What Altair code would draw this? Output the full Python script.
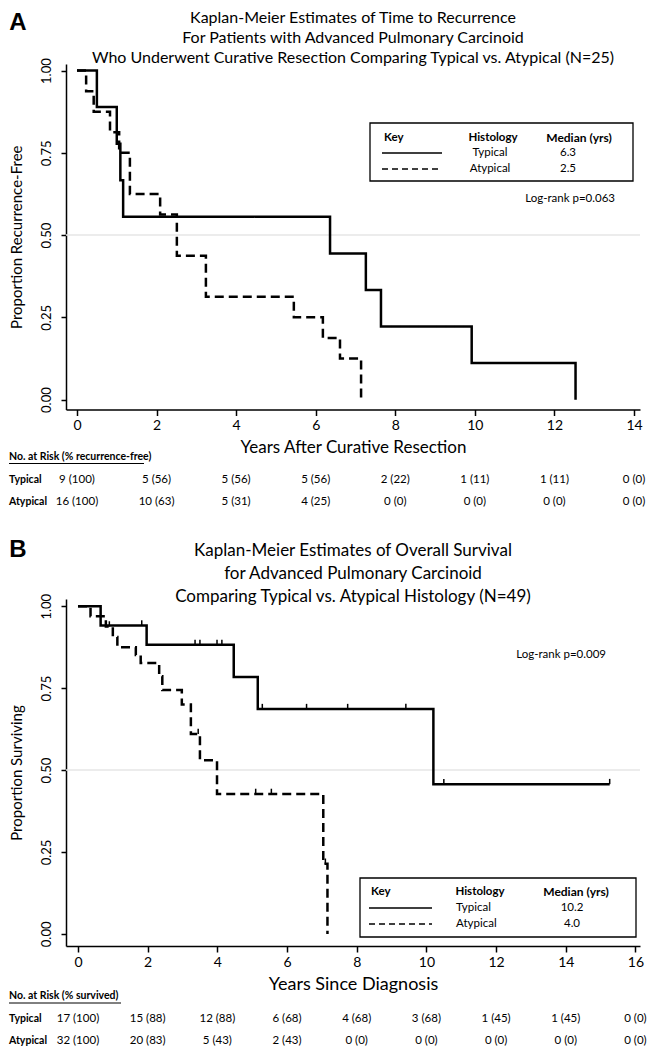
import altair as alt
import pandas as pd

FONT = "Lato"
LETTER_FONT = "Liberation Sans"

# ---------------- Panel A data ----------------
A_TITLE = ["Kaplan-Meier Estimates of Time to Recurrence",
           "For Patients with Advanced Pulmonary Carcinoid",
           "Who Underwent Curative Resection Comparing Typical vs. Atypical (N=25)"]
A_XTITLE = "Years After Curative Resection"
A_YTITLE = "Proportion Recurrence-Free"
A_typ_time = [0, 0.50, 1.00, 1.09, 1.16, 6.36, 7.26, 7.64, 9.92, 12.53]
A_typ_surv = [1.0, 0.889, 0.778, 0.667, 0.556, 0.444, 0.333, 0.222, 0.111, 0.0]
A_aty_time = [0, 0.23, 0.42, 0.83, 1.06, 1.33, 2.09, 2.51, 3.24, 5.45, 6.18, 6.61, 7.14]
A_aty_surv = [1.0, 0.9375, 0.875, 0.8125, 0.75, 0.625, 0.5625, 0.4375, 0.3125, 0.25, 0.1875, 0.125, 0.0]
A_xticks = [0, 2, 4, 6, 8, 10, 12, 14]
A_risk_header = "No. at Risk (% recurrence-free)"
A_risk_typ = ["9 (100)", "5 (56)", "5 (56)", "5 (56)", "2 (22)", "1 (11)", "1 (11)", "0 (0)"]
A_risk_aty = ["16 (100)", "10 (63)", "5 (31)", "4 (25)", "0 (0)", "0 (0)", "0 (0)", "0 (0)"]
A_medians = ["6.3", "2.5"]
A_logrank = "Log-rank p=0.063"

# ---------------- Panel B data ----------------
B_TITLE = ["Kaplan-Meier Estimates of Overall Survival",
           "for Advanced Pulmonary Carcinoid",
           "Comparing Typical vs. Atypical Histology (N=49)"]
B_XTITLE = "Years Since Diagnosis"
B_YTITLE = "Proportion Surviving"
B_typ_time = [0, 0.65, 1.97, 4.47, 5.16, 10.2, 15.26]
B_typ_surv = [1.0, 0.941, 0.882, 0.784, 0.686, 0.457, 0.457]
B_typ_cens_time = [1.83, 3.36, 3.50, 3.99, 4.13, 5.29, 6.56, 7.74, 9.41, 10.50, 15.26]
B_typ_cens_surv = [0.941, 0.882, 0.882, 0.882, 0.882, 0.686, 0.686, 0.686, 0.686, 0.457, 0.457]
B_aty_time = [0, 0.36, 0.80, 1.0, 1.13, 1.66, 1.80, 2.33, 2.42, 2.98, 3.24, 3.50, 3.99, 7.04, 7.16]
B_aty_surv = [1.0, 0.969, 0.938, 0.906, 0.875, 0.851, 0.827, 0.786, 0.744, 0.70, 0.61, 0.53, 0.427, 0.214, 0.0]
B_aty_cens_time = [0.90, 3.45, 5.10, 5.55, 7.10]
B_aty_cens_surv = [0.938, 0.61, 0.427, 0.427, 0.214]
B_xticks = [0, 2, 4, 6, 8, 10, 12, 14, 16]
B_risk_header = "No. at Risk (% survived)"
B_risk_typ = ["17 (100)", "15 (88)", "12 (88)", "6 (68)", "4 (68)", "3 (68)", "1 (45)", "1 (45)", "0 (0)"]
B_risk_aty = ["32 (100)", "20 (83)", "5 (43)", "2 (43)", "0 (0)", "0 (0)", "0 (0)", "0 (0)", "0 (0)"]
B_medians = ["10.2", "4.0"]
B_logrank = "Log-rank p=0.009"

GROUPS = ["Typical", "Atypical"]
LEGEND_HEAD = ["Key", "Histology", "Median (yrs)"]
Y_TICKS = [0, 0.25, 0.5, 0.75, 1.0]

W = 574
dummy = pd.DataFrame({"d": [0]})


def txt(text, x, y, size=11, weight="normal", align="center", font=FONT, baseline="middle"):
    return alt.Chart(dummy).mark_text(
        text=text, font=font, fontSize=size, fontWeight=weight, align=align,
        baseline=baseline, color="black"
    ).encode(x=alt.value(x), y=alt.value(y))


def panel(cfg):
    xs = alt.Scale(domain=cfg["xdom"], nice=False, zero=False)
    ys = alt.Scale(domain=cfg["ydom"], nice=False, zero=False)
    xaxis = alt.Axis(values=cfg["xticks"], title=cfg["xtitle"], grid=False, format="d",
                     domainColor="black", domainWidth=1.5, tickColor="black", tickWidth=1.5,
                     tickSize=6, labelFont=FONT, labelFontSize=14, labelColor="black",
                     labelPadding=3, labelFlush=False, labelOverlap=False,
                     titleFont=FONT, titleFontSize=cfg["xtitle_size"], titleFontWeight="normal",
                     titleColor="black", titlePadding=cfg["xtitlepad"])
    yaxis = alt.Axis(values=Y_TICKS, format=".2f", title=cfg["ytitle"], grid=False,
                     domainColor="black", domainWidth=1.5, tickColor="black", tickWidth=1.5,
                     tickSize=5, labelFont=FONT, labelFontSize=13, labelColor="black",
                     labelAngle=270, labelAlign="center", labelBaseline="bottom",
                     labelPadding=8, labelFlush=False, labelOverlap=False,
                     titleFont=FONT, titleFontSize=15, titleFontWeight="normal",
                     titleColor="black", titlePadding=16)
    X = lambda: alt.X("time:Q", scale=xs, axis=xaxis)
    Y = lambda: alt.Y("surv:Q", scale=ys, axis=yaxis)

    km = pd.concat([
        pd.DataFrame({"time": cfg["typ_t"], "surv": cfg["typ_s"], "group": "Typical"}),
        pd.DataFrame({"time": cfg["aty_t"], "surv": cfg["aty_s"], "group": "Atypical"}),
    ])
    grid = alt.Chart(pd.DataFrame({"surv": [0.5]})).mark_rule(
        color="#e6e6e6", strokeWidth=1.5
    ).encode(y=Y())
    lines = alt.Chart(km).mark_line(interpolate="step-after", color="black", strokeWidth=2.5).encode(
        x=X(), y=Y(),
        strokeDash=alt.StrokeDash("group:N", scale=alt.Scale(domain=GROUPS, range=[[1, 0], [9, 5]]), legend=None),
        detail="group:N",
    )
    layers = [grid, lines]
    if cfg.get("cens_t"):
        cens = pd.DataFrame({"time": cfg["cens_t"], "surv": cfg["cens_s"]})
        layers.append(alt.Chart(cens).mark_point(
            shape="M0,-1L0,0", size=110, filled=False, color="black", strokeWidth=1.5, opacity=1
        ).encode(x=X(), y=Y()))

    # title lines and panel letter
    for line, yy in zip(cfg["title"], cfg["title_y"]):
        layers.append(txt(line, W / 2, yy, size=cfg["title_size"]))
    layers.append(txt(cfg["letter"], -48, cfg["letter_y"], size=24, weight="bold", font=LETTER_FONT))

    # legend box
    L = cfg["leg"]
    layers.append(alt.Chart(dummy).mark_rect(fill="white", stroke="black", strokeWidth=1.3).encode(
        x=alt.value(L["x0"]), x2=alt.value(L["x1"]), y=alt.value(L["y0"]), y2=alt.value(L["y1"])))
    layers.append(txt(LEGEND_HEAD[0], L["key_x"], L["head_y"], size=11.5, weight="bold", align="left"))
    layers.append(txt(LEGEND_HEAD[1], L["hist_x"], L["head_y"], size=11.5, weight="bold"))
    layers.append(txt(LEGEND_HEAD[2], L["med_x"], L["head_y"], size=12, weight="bold"))
    for i, (g, m, ry) in enumerate(zip(GROUPS, cfg["medians"], L["row_y"])):
        layers.append(alt.Chart(dummy).mark_rule(
            color="black", strokeWidth=1.3, strokeDash=([1, 0] if i == 0 else [6, 4])
        ).encode(x=alt.value(L["key_x"] - 2), x2=alt.value(L["line_x1"]), y=alt.value(ry)))
        layers.append(txt(g, L["grp_x"], ry, size=11.5, align=L["grp_align"]))
        layers.append(txt(m, L["val_x"], ry, size=11.5))
    layers.append(txt(cfg["logrank"], cfg["lr_x"], cfg["lr_y"], size=11.5, align="right"))

    # number-at-risk table
    H = cfg["height"]
    risk = pd.DataFrame({"time": cfg["xticks"], "typ": cfg["risk_typ"], "aty": cfg["risk_aty"]})
    ty = cfg["tab_y"]
    layers.append(txt(cfg["risk_header"], -57, H + ty[0], size=10.5, weight="bold", align="left"))
    layers.append(alt.Chart(dummy).mark_rule(color="black", strokeWidth=1).encode(
        x=alt.value(-57), x2=alt.value(-57 + cfg["ul_w"]), y=alt.value(H + ty[0] + 7)))
    for key, g, yy in zip(["typ", "aty"], GROUPS, ty[1:]):
        layers.append(txt(g, -57, H + yy, size=10.5, weight="bold", align="left"))
        layers.append(alt.Chart(risk).mark_text(font=FONT, fontSize=11.5, color="black").encode(
            x=X(), y=alt.value(H + yy), text=f"{key}:N"))

    return alt.layer(*layers).properties(width=W, height=H)


cfgA = dict(
    xdom=[-0.276, 14.15], ydom=[-0.030, 1.02], height=345.5, xticks=A_xticks,
    xtitle=A_XTITLE, ytitle=A_YTITLE, xtitlepad=7, xtitle_size=17,
    typ_t=A_typ_time, typ_s=A_typ_surv, aty_t=A_aty_time, aty_s=A_aty_surv,
    title=A_TITLE, title_y=[-46, -26, -6], title_size=16, letter="A", letter_y=-41,
    leg=dict(x0=304, x1=567, y0=59, y1=117, key_x=318, hist_x=427, med_x=513, head_y=74,
             row_y=[89, 105], line_x1=376, grp_x=424, grp_align="center", val_x=502),
    medians=A_medians, logrank=A_logrank, lr_x=549, lr_y=135,
    risk_header=A_risk_header, risk_typ=A_risk_typ, risk_aty=A_risk_aty,
    tab_y=[47, 70, 92], ul_w=135,
)
cfgB = dict(
    xdom=[-0.344, 16.13], ydom=[-0.037, 1.022], height=347, xticks=B_xticks,
    xtitle=B_XTITLE, ytitle=B_YTITLE, xtitlepad=6, xtitle_size=18,
    typ_t=B_typ_time, typ_s=B_typ_surv, aty_t=B_aty_time, aty_s=B_aty_surv,
    cens_t=B_typ_cens_time + B_aty_cens_time, cens_s=B_typ_cens_surv + B_aty_cens_surv,
    title=B_TITLE, title_y=[-48, -25, -2], title_size=17, letter="B", letter_y=-49,
    leg=dict(x0=294, x1=570, y0=279, y1=338, key_x=305, hist_x=414, med_x=510, head_y=293,
             row_y=[309, 325], line_x1=366, grp_x=390, grp_align="left", val_x=506),
    medians=B_medians, logrank=B_logrank, lr_x=540, lr_y=56,
    risk_header=B_risk_header, risk_typ=B_risk_typ, risk_aty=B_risk_aty,
    tab_y=[50, 73, 95], ul_w=112,
)

chart = alt.vconcat(panel(cfgA), panel(cfgB), spacing=31).properties(
    padding={"top": 2, "left": 0, "right": 0, "bottom": 0}, background="white"
).configure_view(stroke=None)

chart.save("out.html", embed_options={"renderer": "svg", "actions": False})
